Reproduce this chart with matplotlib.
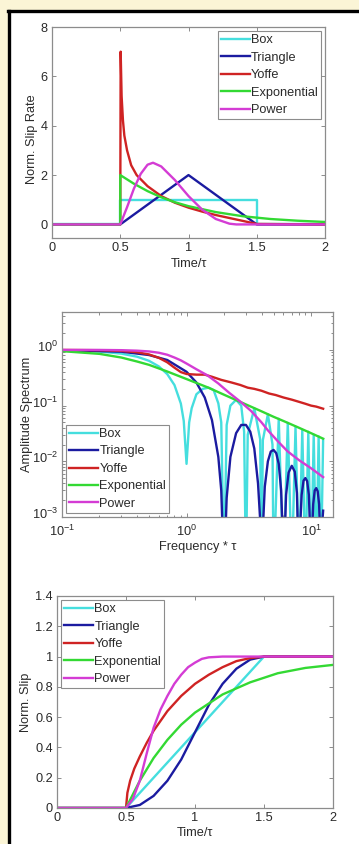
import matplotlib
matplotlib.use("Agg")
import matplotlib.pyplot as plt
from matplotlib.patches import Rectangle
from matplotlib.lines import Line2D
from matplotlib.transforms import ScaledTranslation
from matplotlib.ticker import LogLocator, NullFormatter, FixedLocator

plt.rcParams['font.family'] = ['Liberation Sans', 'DejaVu Sans']
plt.rcParams['mathtext.fontset'] = 'custom'
plt.rcParams['mathtext.rm'] = 'Liberation Sans'

labels = ["Box", "Triangle", "Yoffe", "Exponential", "Power"]
colors = ["#45DEDE", "#1B1BA0", "#CF2323", "#33D933", "#D43CD4"]

# ---- slip rate (normalised) versus time / tau ----
rate_t_box = [0, 0.5, 0.5, 1.5, 1.5, 2.0]
rate_v_box = [0, 0, 1.0, 1.0, 0, 0]
rate_t_tri = [0, 0.5, 1.0, 1.5, 2.0]
rate_v_tri = [0, 0, 2.0, 0, 0]
rate_t_yof = [0, 0.5, 0.503, 0.51, 0.52, 0.53, 0.55, 0.58, 0.62, 0.7, 0.8, 0.9,
              1.0, 1.1, 1.2, 1.3, 1.4, 1.5, 2.0]
rate_v_yof = [0, 0, 7.0, 5.2, 4.2, 3.6, 3.0, 2.4, 2.0, 1.55, 1.15, 0.88,
              0.68, 0.52, 0.38, 0.26, 0.14, 0.02, 0]
rate_t_exp = [0, 0.5, 0.5, 0.6, 0.7, 0.8, 0.9, 1.0, 1.2, 1.4, 1.6, 1.8, 2.0]
rate_v_exp = [0, 0, 2.0, 1.65, 1.35, 1.1, 0.9, 0.74, 0.5, 0.33, 0.22, 0.15, 0.10]
rate_t_pow = [0, 0.5, 0.55, 0.6, 0.65, 0.7, 0.74, 0.8, 0.9, 1.0, 1.1, 1.2, 1.3,
              1.35, 2.0]
rate_v_pow = [0, 0, 0.7, 1.45, 2.05, 2.42, 2.5, 2.35, 1.8, 1.15, 0.6, 0.22, 0.03,
              0, 0]

# ---- amplitude spectrum versus frequency * tau ----
spec_f_box = [0.1, 0.2, 0.3, 0.4, 0.5, 0.6, 0.7, 0.8, 0.9, 0.95, 1.0, 1.05, 1.1,
              1.2, 1.35, 1.5, 1.65, 1.8, 1.9, 2.0, 2.1, 2.25, 2.5, 2.75, 2.9,
              3.0, 3.1, 3.5, 3.9, 4.0, 4.1, 4.5, 4.9, 5.0, 5.5, 6.0, 6.5, 7.0,
              7.5, 8.0, 8.5, 9.0, 9.5, 10.0, 10.5, 11.0, 11.5, 12.0, 12.5]
spec_a_box = [0.984, 0.935, 0.858, 0.757, 0.637, 0.505, 0.368, 0.234, 0.109,
              0.053, 0.009, 0.05, 0.09, 0.16, 0.2, 0.21, 0.19, 0.11, 0.05,
              0.0001, 0.045, 0.1, 0.127, 0.1, 0.034, 0.0001, 0.03, 0.09, 0.025,
              0.0001, 0.024, 0.07, 0.02, 0.0001, 0.058, 0.0001, 0.049, 0.0001,
              0.042, 0.0001, 0.037, 0.0001, 0.034, 0.0001, 0.030, 0.0001,
              0.028, 0.0001, 0.025]
spec_f_tri = [0.1, 0.3, 0.5, 0.7, 1.0, 1.2, 1.4, 1.6, 1.8, 1.9, 2.0,
              2.1, 2.25, 2.5, 2.75, 3.0, 3.25, 3.5, 3.75, 3.9, 4.0,
              4.1, 4.25, 4.5, 4.75, 5.0, 5.25, 5.5, 5.75, 5.9, 6.0,
              6.1, 6.3, 6.6, 7.0, 7.4, 7.7, 7.9, 8.0,
              8.15, 8.4, 8.7, 9.0, 9.3, 9.6, 9.85, 10.0,
              10.15, 10.4, 10.7, 11.0, 11.3, 11.6, 11.85, 12.0, 12.3, 12.5]
spec_a_tri = [0.992, 0.93, 0.81, 0.66, 0.405, 0.26, 0.14, 0.055, 0.012, 0.003, 0.0001,
              0.0022, 0.012, 0.032, 0.045, 0.045, 0.034, 0.017, 0.004, 0.0009, 0.0001,
              0.0006, 0.0035, 0.01, 0.015, 0.016, 0.014, 0.009, 0.003, 0.0006, 0.0001,
              0.0003, 0.0025, 0.0063, 0.0083, 0.0065, 0.0027, 0.0003, 0.0001,
              0.0006, 0.0025, 0.0045, 0.005, 0.0044, 0.0025, 0.0005, 0.0001,
              0.0004, 0.0017, 0.003, 0.0033, 0.0029, 0.0017, 0.0004, 0.0001, 0.0008, 0.0013]
spec_f_yof = [0.1, 0.2, 0.3, 0.4, 0.5, 0.6, 0.7, 0.8, 0.9, 1.0, 1.2, 1.4, 1.6, 1.9,
              2.3, 2.7, 3.1, 3.5, 4.0, 4.6, 5.2, 6.0, 7.0, 8.0, 9.0, 10.0, 11.0, 12.5]
spec_a_yof = [1.0, 0.99, 0.96, 0.91, 0.83, 0.72, 0.6, 0.48, 0.4, 0.37, 0.36, 0.36,
              0.33, 0.29, 0.26, 0.235, 0.21, 0.2, 0.185, 0.165, 0.155, 0.14, 0.128,
              0.117, 0.108, 0.1, 0.096, 0.088]
spec_f_exp = [0.1, 0.2, 0.3, 0.4, 0.5, 0.7, 1.0, 1.5, 2.0, 3.0, 4.0, 5.0, 6.0, 8.0,
              10.0, 12.5]
spec_a_exp = [0.95, 0.85, 0.73, 0.62, 0.54, 0.41, 0.30, 0.21, 0.157, 0.105, 0.079,
              0.063, 0.053, 0.040, 0.032, 0.0255]
spec_f_pow = [0.1, 0.2, 0.3, 0.4, 0.5, 0.6, 0.7, 0.8, 0.9, 1.0, 1.2, 1.47, 1.8, 2.2,
              2.73, 3.3, 4.0, 4.5, 5.5, 6.5, 8.0, 10.0, 12.5]
spec_a_pow = [1.0, 1.0, 0.99, 0.97, 0.94, 0.89, 0.82, 0.73, 0.65, 0.57, 0.45, 0.35,
              0.25, 0.17, 0.116, 0.08, 0.05, 0.036, 0.022, 0.015, 0.0105, 0.0075,
              0.0052]

# ---- cumulative slip (normalised) versus time / tau ----
slip_t_box = [0, 0.5, 1.5, 2.0]
slip_v_box = [0, 0, 1.0, 1.0]
slip_t_tri = [0, 0.5, 0.6, 0.7, 0.8, 0.9, 1.0, 1.1, 1.2, 1.3, 1.4, 1.5, 2.0]
slip_v_tri = [0, 0, 0.02, 0.08, 0.18, 0.32, 0.5, 0.68, 0.82, 0.92, 0.98, 1.0, 1.0]
slip_t_yof = [0, 0.5, 0.51, 0.53, 0.56, 0.6, 0.65, 0.7, 0.8, 0.9, 1.0, 1.1, 1.2,
              1.3, 1.4, 1.5, 2.0]
slip_v_yof = [0, 0, 0.1, 0.18, 0.26, 0.34, 0.43, 0.51, 0.64, 0.74, 0.82, 0.88,
              0.93, 0.97, 0.99, 1.0, 1.0]
slip_t_exp = [0, 0.5, 0.6, 0.7, 0.8, 0.9, 1.0, 1.2, 1.4, 1.6, 1.8, 2.0]
slip_v_exp = [0, 0, 0.18, 0.33, 0.45, 0.55, 0.63, 0.75, 0.83, 0.89, 0.925, 0.945]
slip_t_pow = [0, 0.5, 0.55, 0.6, 0.65, 0.7, 0.75, 0.8, 0.85, 0.9, 0.95, 1.0,
              1.05, 1.1, 1.2, 2.0]
slip_v_pow = [0, 0, 0.06, 0.18, 0.36, 0.53, 0.65, 0.74, 0.82, 0.88, 0.93, 0.96,
              0.985, 0.995, 1.0, 1.0]

time_ticks = [0, 0.5, 1, 1.5, 2]
time_ticklabels = ["0", "0.5", "1", "1.5", "2"]
rate_ticks = [0, 2, 4, 6, 8]
slip_ticks = [0, 0.2, 0.4, 0.6, 0.8, 1.0, 1.2, 1.4]
slip_ticklabels = ["0", "0.2", "0.4", "0.6", "0.8", "1", "1.2", "1.4"]

W, H = 359, 844
FS = 9.2
LW = 1.7
TXT = "#2A2A2A"
fig = plt.figure(figsize=(W / 100, H / 100), dpi=100)
fig.patch.set_facecolor("#FBF5D6")

# white panel with black frame on left and top
fig.add_artist(Rectangle((10 / W, 0), 1, 1 - 11 / H, transform=fig.transFigure,
                         facecolor="white", edgecolor="none", zorder=-5))
fig.add_artist(Line2D([9 / W, 9 / W], [0, 1 - 10.5 / H], transform=fig.transFigure,
                      color="black", lw=2.4))
fig.add_artist(Line2D([8 / W, 1], [1 - 10.5 / H, 1 - 10.5 / H],
                      transform=fig.transFigure, color="black", lw=2.4))


def make_axes(left, right, top, bottom):
    return fig.add_axes([left / W, 1 - bottom / H, (right - left) / W,
                         (bottom - top) / H])


def style(ax):
    for s in ax.spines.values():
        s.set_color("#8C8C8C")
        s.set_linewidth(0.9)
    ax.tick_params(which="both", direction="in", top=True, right=True,
                   colors="#8C8C8C", labelcolor=TXT, labelsize=FS,
                   width=0.7, pad=3)
    ax.tick_params(which="major", length=3)
    ax.tick_params(which="minor", length=1.8)


def legend(ax, loc):
    lg = ax.legend(loc=loc, fontsize=FS, handlelength=2.3, handletextpad=0.08,
                   labelspacing=0.43, borderpad=0.2, borderaxespad=0.35,
                   fancybox=False, framealpha=1, edgecolor="#8C8C8C")
    lg.get_frame().set_linewidth(0.8)
    for txt in lg.get_texts():
        txt.set_color(TXT)
    return lg


# top: slip rate
ax1 = make_axes(52, 325, 27, 238)
rate_data = [(rate_t_box, rate_v_box), (rate_t_tri, rate_v_tri),
             (rate_t_yof, rate_v_yof), (rate_t_exp, rate_v_exp),
             (rate_t_pow, rate_v_pow)]
for (t, v), c, lab in zip(rate_data, colors, labels):
    ax1.plot(t, v, color=c, lw=LW, label=lab)
ax1.set_xlim(0, 2)
ax1.set_ylim(-0.55, 8)
ax1.set_xticks(time_ticks)
ax1.set_xticklabels(time_ticklabels)
ax1.set_yticks(rate_ticks)
style(ax1)
ax1.set_xlabel("Time/\u03c4", fontsize=FS, color=TXT)
ax1.set_ylabel("Norm. Slip Rate", fontsize=FS, color=TXT)
ax1.xaxis.set_label_coords(0.5, -0.095)
ax1.yaxis.set_label_coords(-0.051, 0.47)
legend(ax1, "upper right")

# middle: amplitude spectrum
ax2 = make_axes(62, 333, 312, 517)
spec_data = [(spec_f_box, spec_a_box), (spec_f_tri, spec_a_tri),
             (spec_f_yof, spec_a_yof), (spec_f_exp, spec_a_exp),
             (spec_f_pow, spec_a_pow)]
for (f, a), c, lab in zip(spec_data, colors, labels):
    ax2.loglog(f, a, color=c, lw=LW, label=lab)
ax2.set_xlim(0.1, 15)
ax2.set_ylim(1e-3, 4.8)
ax2.xaxis.set_major_locator(FixedLocator([0.1, 1, 10]))
ax2.yaxis.set_major_locator(FixedLocator([1e-3, 1e-2, 1e-1, 1]))
ax2.xaxis.set_minor_locator(LogLocator(base=10, subs=range(2, 10), numticks=20))
ax2.yaxis.set_minor_locator(LogLocator(base=10, subs=range(2, 10), numticks=20))
ax2.xaxis.set_minor_formatter(NullFormatter())
ax2.yaxis.set_minor_formatter(NullFormatter())
style(ax2)
ax2.tick_params(axis="x", which="both", pad=5)
ax2.set_xlabel("Frequency * \u03c4", fontsize=FS, color=TXT)
ax2.set_ylabel("Amplitude Spectrum", fontsize=FS, color=TXT)
ax2.xaxis.set_label_coords(0.5, -0.118)
ax2.yaxis.set_label_coords(-0.107, 0.5)
legend(ax2, "lower left")
# lift the y tick labels a little so the corner labels stay apart
fig.canvas.draw()
lift = ScaledTranslation(0, 3 / 72, fig.dpi_scale_trans)
for lbl in ax2.get_yticklabels():
    lbl.set_transform(lbl.get_transform() + lift)

# bottom: cumulative slip
ax3 = make_axes(57, 333, 596, 808)
slip_data = [(slip_t_box, slip_v_box), (slip_t_tri, slip_v_tri),
             (slip_t_yof, slip_v_yof), (slip_t_exp, slip_v_exp),
             (slip_t_pow, slip_v_pow)]
for (t, v), c, lab in zip(slip_data, colors, labels):
    ax3.plot(t, v, color=c, lw=LW, label=lab)
ax3.set_xlim(0, 2)
ax3.set_ylim(0, 1.4)
ax3.set_xticks(time_ticks)
ax3.set_xticklabels(time_ticklabels)
ax3.set_yticks(slip_ticks)
ax3.set_yticklabels(slip_ticklabels)
style(ax3)
ax3.set_xlabel("Time/\u03c4", fontsize=FS, color=TXT)
ax3.set_ylabel("Norm. Slip", fontsize=FS, color=TXT)
ax3.xaxis.set_label_coords(0.5, -0.09)
ax3.yaxis.set_label_coords(-0.09, 0.5)
legend(ax3, "upper left")

fig.savefig("out.png", dpi=100, facecolor=fig.get_facecolor())
